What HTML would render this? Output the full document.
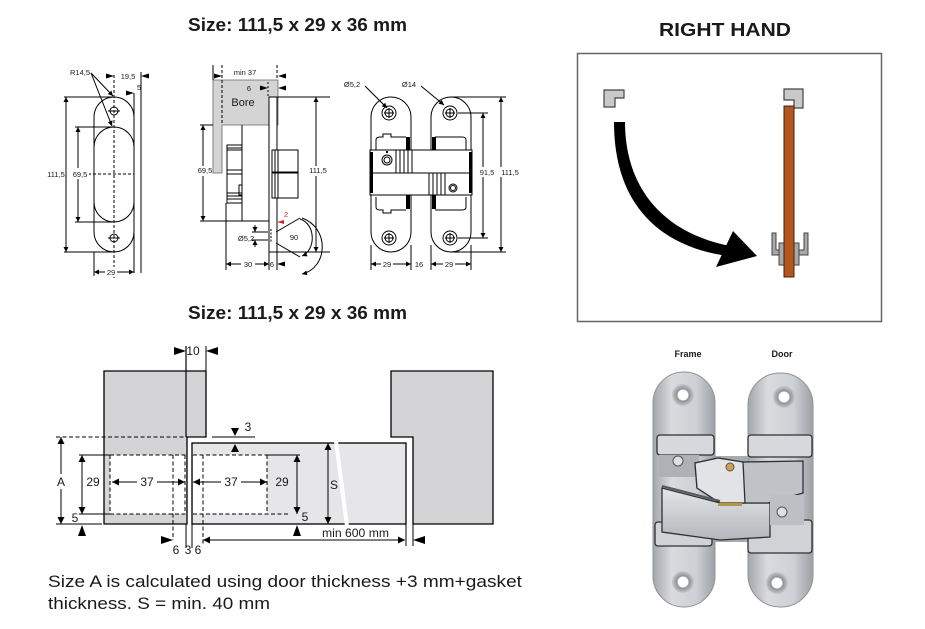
<!DOCTYPE html>
<html><head><meta charset="utf-8"><style>
html,body{margin:0;padding:0;background:#fff;}
svg{display:block;}
text{font-family:"Liberation Sans",Arial,sans-serif;fill:#1a1a1a;}
.d{font-size:7.5px;}
.b{font-size:12px;}
</style></head><body>
<svg width="925" height="629" viewBox="0 0 925 629" xmlns="http://www.w3.org/2000/svg">
<defs>
<marker id="ar" viewBox="0 0 10 10" refX="10" refY="5" markerWidth="7" markerHeight="5" markerUnits="userSpaceOnUse" orient="auto-start-reverse"><path d="M0,0L10,5L0,10z" fill="#000"/></marker>
<marker id="ab" viewBox="0 0 10 10" refX="10" refY="5" markerWidth="11" markerHeight="7" markerUnits="userSpaceOnUse" orient="auto-start-reverse"><path d="M0,0L10,5L0,10z" fill="#000"/></marker>
<linearGradient id="silv" x1="0" y1="0" x2="1" y2="0">
<stop offset="0" stop-color="#a3a6ab"/><stop offset="0.3" stop-color="#d9dbde"/><stop offset="0.7" stop-color="#cdd0d4"/><stop offset="1" stop-color="#9da0a5"/>
</linearGradient>
<linearGradient id="silv2" x1="0" y1="0" x2="0" y2="1">
<stop offset="0" stop-color="#e4e6e8"/><stop offset="1" stop-color="#b3b6ba"/>
</linearGradient>
<radialGradient id="hole" cx="0.5" cy="0.5" r="0.5">
<stop offset="0.45" stop-color="#ffffff"/><stop offset="0.55" stop-color="#8d9095"/><stop offset="1" stop-color="#c7c9cd"/>
</radialGradient>
</defs>
<rect width="925" height="629" fill="#fff"/>

<!-- Titles -->
<text x="188" y="31" font-size="18" font-weight="bold" textLength="219" lengthAdjust="spacingAndGlyphs">Size: 111,5 x 29 x 36 mm</text>
<text x="188" y="319" font-size="18" font-weight="bold" textLength="219" lengthAdjust="spacingAndGlyphs">Size: 111,5 x 29 x 36 mm</text>
<text x="659" y="36" font-size="18" font-weight="bold" textLength="132" lengthAdjust="spacingAndGlyphs">RIGHT HAND</text>

<!-- ============ VIEW 1 ============ -->
<g stroke="#000" stroke-width="1" fill="none">
<rect x="94" y="97" width="40" height="155" rx="20"/>
<rect x="94" y="127" width="40" height="95" rx="20"/>
<circle cx="114" cy="111" r="4"/><circle cx="114" cy="238" r="4"/>
<line x1="108" y1="111" x2="120" y2="111"/><line x1="108" y1="238" x2="120" y2="238"/>
<line x1="114" y1="75" x2="114" y2="278" stroke-dasharray="3 2"/>
<line x1="88" y1="174" x2="134" y2="174" stroke-dasharray="3 2"/>
<line x1="134" y1="93" x2="134" y2="273"/>
<line x1="141" y1="72" x2="141" y2="273"/>
<line x1="64" y1="97" x2="113" y2="97"/>
<line x1="64" y1="252" x2="113" y2="252"/>
<line x1="75" y1="127" x2="113" y2="127"/>
<line x1="75" y1="222" x2="113" y2="222"/>
<line x1="94" y1="252" x2="94" y2="276"/>
<line x1="66" y1="97" x2="66" y2="252" marker-start="url(#ar)" marker-end="url(#ar)"/>
<line x1="78" y1="127" x2="78" y2="222" marker-start="url(#ar)" marker-end="url(#ar)"/>
<line x1="94" y1="272" x2="134" y2="272" marker-start="url(#ar)" marker-end="url(#ar)"/>
<line x1="91" y1="73" x2="113" y2="96" marker-end="url(#ar)"/>
<line x1="91" y1="73" x2="112" y2="126" marker-end="url(#ar)"/>
</g>
<polygon points="106,73.5 114,76 106,78.5" fill="#000"/>
<polygon points="149,73.5 141,76 149,78.5" fill="#000"/>
<polygon points="126,90.5 134,93 126,95.5" fill="#000"/>
<rect x="71" y="168" width="18" height="11" fill="#fff"/>
<rect x="105" y="267" width="12" height="10" fill="#fff"/>
<text class="d" x="90" y="75" text-anchor="end">R14,5</text>
<text class="d" x="128" y="79" text-anchor="middle">19,5</text>
<text class="d" x="137" y="90">5</text>
<text class="d" x="56" y="177" text-anchor="middle">111,5</text>
<text class="d" x="80" y="177" text-anchor="middle">69,5</text>
<text class="d" x="111" y="275" text-anchor="middle">29</text>

<!-- ============ VIEW 2 ============ -->
<polygon points="213,80 278,80 278,125 222,125 222,173 213,173" fill="#d4d4d4" stroke="#666" stroke-width="0.8"/>
<g stroke="#000" stroke-width="1" fill="none">
<line x1="222" y1="65" x2="222" y2="125" stroke-dasharray="3 2"/>
<line x1="277" y1="65" x2="277" y2="80" stroke-dasharray="3 2"/>
<line x1="268" y1="82" x2="268" y2="97" stroke-dasharray="2 2"/>
<line x1="213" y1="65" x2="213" y2="80"/>
<rect x="269" y="97" width="8" height="155" fill="#fff"/>
<line x1="242" y1="125" x2="242" y2="221"/>
<line x1="200" y1="221" x2="269" y2="221"/>
<line x1="200" y1="125" x2="213" y2="125"/>
<rect x="227" y="145" width="15" height="58" fill="#fff"/>
<line x1="227" y1="148" x2="242" y2="148"/><line x1="227" y1="150" x2="242" y2="150"/>
<line x1="227" y1="170" x2="242" y2="170"/><line x1="227" y1="174" x2="242" y2="174"/>
<line x1="227" y1="193" x2="242" y2="193"/><line x1="227" y1="196" x2="242" y2="196"/><line x1="227" y1="199" x2="242" y2="199"/>
<rect x="239" y="185" width="3" height="10"/>
<rect x="272" y="150" width="26" height="22" fill="#fff"/>
<rect x="272" y="173" width="26" height="25" fill="#fff"/>
<line x1="275" y1="150" x2="275" y2="198"/><line x1="278" y1="150" x2="278" y2="198"/>
<line x1="226" y1="203" x2="226" y2="270"/>
<line x1="269" y1="252" x2="269" y2="270"/>
<line x1="277" y1="252" x2="277" y2="270"/>
<line x1="226" y1="264" x2="269" y2="264" marker-start="url(#ar)" marker-end="url(#ar)"/>
<line x1="277" y1="97" x2="330" y2="97"/>
<line x1="277" y1="252" x2="330" y2="252"/>
<line x1="316" y1="97" x2="316" y2="252" marker-start="url(#ar)" marker-end="url(#ar)"/>
<line x1="203" y1="125" x2="203" y2="221" marker-start="url(#ar)" marker-end="url(#ar)"/>
<line x1="252" y1="232" x2="268" y2="232"/>
<line x1="252" y1="240" x2="268" y2="240"/>
<line x1="255" y1="225" x2="255" y2="232" marker-end="url(#ar)"/>
<line x1="255" y1="247" x2="255" y2="240" marker-end="url(#ar)"/>
<line x1="271" y1="229" x2="271" y2="243" stroke-dasharray="2 1.5"/>
<line x1="276" y1="232" x2="300" y2="218"/>
<line x1="276" y1="243" x2="300" y2="257"/>
<path d="M300,219 C316,224 316,250 302,256" marker-end="url(#ar)"/>
<path d="M302,218 C330,228 328,268 302,274" marker-end="url(#ar)"/>
</g>
<polygon points="214,73.5 222,76 214,78.5" fill="#000"/>
<polygon points="286,73.5 278,76 286,78.5" fill="#000"/>
<polygon points="260,85.5 268,88 260,90.5" fill="#000"/>
<polygon points="286,85.5 278,88 286,90.5" fill="#000"/>
<polygon points="285,261.5 277,264 285,266.5" fill="#000"/>
<polygon points="284,220 277,222 284,224" fill="#d22"/>
<rect x="198" y="166" width="14" height="10" fill="#fff"/>
<rect x="309" y="166" width="18" height="10" fill="#fff"/>
<rect x="241" y="259" width="14" height="10" fill="#fff"/>
<text class="d" x="245" y="75" text-anchor="middle" font-size="8">min 37</text>
<text class="d" x="249" y="91" text-anchor="middle">6</text>
<text x="243" y="106" font-size="11" text-anchor="middle">Bore</text>
<text class="d" x="205" y="173" text-anchor="middle">69,5</text>
<text class="d" x="318" y="173" text-anchor="middle">111,5</text>
<text class="d" x="246" y="241" text-anchor="middle">Ø5,2</text>
<text class="d" x="284" y="217" style="fill:#d22">2</text>
<text class="d" x="294" y="240" text-anchor="middle">90</text>
<text class="d" x="248" y="267" text-anchor="middle">30</text>
<text class="d" x="272" y="267" text-anchor="middle">6</text>

<!-- ============ VIEW 3 ============ -->
<g stroke="#000" stroke-width="1" fill="#fff">
<rect x="371" y="97" width="40" height="155" rx="20"/>
<rect x="431" y="97" width="40" height="155" rx="20"/>
<path d="M376,150 V140 Q376,137 380,137 H383 V134 H391 V137 H406" fill="none"/>
<path d="M376,197 V207 Q376,210 380,210 H383 V213 H391 V210 H406" fill="none"/>
<path d="M466,150 V140 Q466,137 462,137 H435" fill="none"/>
<path d="M466,197 V207 Q466,210 462,210 H435" fill="none"/>
<rect x="370" y="150" width="102" height="23"/>
<rect x="370" y="173" width="102" height="22"/>
<line x1="396" y1="150" x2="396" y2="173"/><line x1="400" y1="150" x2="400" y2="173"/><line x1="404" y1="150" x2="404" y2="173"/><line x1="408" y1="150" x2="408" y2="173"/><line x1="412" y1="150" x2="412" y2="173"/>
<line x1="429" y1="173" x2="429" y2="195"/><line x1="433" y1="173" x2="433" y2="195"/><line x1="437" y1="173" x2="437" y2="195"/><line x1="441" y1="173" x2="441" y2="195"/><line x1="445" y1="173" x2="445" y2="195"/>
<circle cx="387" cy="160" r="5"/><circle cx="387" cy="160" r="3"/>
<circle cx="453" cy="188" r="4"/><circle cx="453" cy="188" r="2.5"/>
<circle cx="389" cy="113" r="7"/><circle cx="389" cy="113" r="4"/>
<circle cx="389" cy="238" r="7"/><circle cx="389" cy="238" r="4"/>
<circle cx="450" cy="113" r="7"/><circle cx="450" cy="113" r="4"/>
<circle cx="450" cy="238" r="7"/><circle cx="450" cy="238" r="4"/>
</g>
<g fill="#000">
<rect x="406" y="137" width="4" height="13"/><rect x="406" y="195" width="4" height="14"/>
<rect x="432" y="137" width="4" height="13"/><rect x="432" y="195" width="4" height="14"/>
<rect x="370" y="152" width="3" height="41"/><rect x="469" y="152" width="3" height="41"/>
<rect x="386" y="151" width="2" height="2"/>
</g>
<g stroke="#000" stroke-width="1" fill="none">
<line x1="384" y1="113" x2="394" y2="113"/><line x1="389" y1="108" x2="389" y2="118"/>
<line x1="384" y1="238" x2="394" y2="238"/><line x1="389" y1="233" x2="389" y2="243"/>
<line x1="445" y1="113" x2="455" y2="113"/><line x1="450" y1="108" x2="450" y2="118"/>
<line x1="445" y1="238" x2="455" y2="238"/><line x1="450" y1="233" x2="450" y2="243"/>
<line x1="365" y1="86" x2="387" y2="108" marker-end="url(#ar)"/>
<line x1="421" y1="86" x2="444" y2="105" marker-end="url(#ar)"/>
<line x1="450" y1="97" x2="506" y2="97"/>
<line x1="450" y1="252" x2="506" y2="252"/>
<line x1="458" y1="113" x2="488" y2="113"/>
<line x1="458" y1="238" x2="488" y2="238"/>
<line x1="483" y1="113" x2="483" y2="238" marker-start="url(#ar)" marker-end="url(#ar)"/>
<line x1="501" y1="97" x2="501" y2="252" marker-start="url(#ar)" marker-end="url(#ar)"/>
<line x1="371" y1="245" x2="371" y2="270"/>
<line x1="411" y1="245" x2="411" y2="270"/>
<line x1="431" y1="245" x2="431" y2="270"/>
<line x1="471" y1="245" x2="471" y2="270"/>
<line x1="371" y1="264" x2="411" y2="264" marker-start="url(#ar)" marker-end="url(#ar)"/>
<line x1="431" y1="264" x2="471" y2="264" marker-start="url(#ar)" marker-end="url(#ar)"/>
</g>
<rect x="477" y="167" width="18" height="10" fill="#fff"/>
<rect x="500" y="167" width="20" height="10" fill="#fff"/>
<rect x="381" y="259" width="12" height="10" fill="#fff"/>
<rect x="443" y="259" width="12" height="10" fill="#fff"/>
<text class="d" x="352" y="87" text-anchor="middle">Ø5,2</text>
<text class="d" x="409" y="87" text-anchor="middle">Ø14</text>
<text class="d" x="487" y="175" text-anchor="middle">91,5</text>
<text class="d" x="510" y="175" text-anchor="middle">111,5</text>
<text class="d" x="387" y="267" text-anchor="middle">29</text>
<text class="d" x="419" y="267" text-anchor="middle">16</text>
<text class="d" x="449" y="267" text-anchor="middle">29</text>

<!-- ============ RIGHT HAND BOX ============ -->
<rect x="577.5" y="53.5" width="304" height="268" fill="#fff" stroke="#666" stroke-width="1.5"/>
<polygon points="604,90 624,90 624,98 615,98 615,107 604,107" fill="#c9c9c9" stroke="#444" stroke-width="1.2"/>
<polygon points="784,89 803,89 803,108 794,108 794,100 784,100" fill="#c9c9c9" stroke="#444" stroke-width="1.2"/>
<path d="M614,122 L625,122 C625,185 660,232 730,246 L728,256 C655,246 614,200 614,122 Z" fill="#000"/>
<polygon points="757,256 733,231 716,267" fill="#000"/>
<path d="M772,233 h4 v17 h28 v-17 h4 v22 h-36 z" fill="#a9a9a9" stroke="#444" stroke-width="1"/>
<rect x="779" y="243" width="5" height="22" fill="#a9a9a9" stroke="#444" stroke-width="1"/>
<rect x="794" y="243" width="5" height="22" fill="#a9a9a9" stroke="#444" stroke-width="1"/>
<rect x="784" y="106" width="10" height="171" fill="#b5561e" stroke="#3b2414" stroke-width="1"/>

<!-- ============ BOTTOM DIAGRAM ============ -->
<polygon points="104,371 206,371 206,437 187,437 187,524 104,524" fill="#d4d4d6" stroke="#000" stroke-width="1.3"/>
<polygon points="391,371 493,371 493,524 413,524 413,437 391,437" fill="#d4d4d6" stroke="#000" stroke-width="1.3"/>
<rect x="192" y="443" width="214" height="81" fill="#e6e6e8" stroke="#000" stroke-width="1.3"/>
<rect x="110" y="455" width="76" height="59" fill="#fff"/>
<rect x="193" y="455" width="74" height="59" fill="#fff"/>
<line x1="336" y1="441" x2="347" y2="526" stroke="#fff" stroke-width="4"/>
<g stroke="#000" stroke-width="1" fill="none">
<g stroke-dasharray="4 2.5">
<line x1="56" y1="437" x2="187" y2="437"/>
<line x1="110" y1="455" x2="186" y2="455"/>
<line x1="110" y1="514" x2="186" y2="514"/>
<line x1="110" y1="455" x2="110" y2="514"/>
<line x1="173" y1="455" x2="173" y2="540"/>
<line x1="185" y1="455" x2="185" y2="514"/>
<line x1="193" y1="455" x2="267" y2="455"/>
<line x1="193" y1="514" x2="290" y2="514"/>
<line x1="267" y1="455" x2="267" y2="514"/>
<line x1="203" y1="455" x2="203" y2="545"/>
</g>
<line x1="186" y1="346" x2="186" y2="437" stroke-width="1.2"/>
<line x1="206" y1="346" x2="206" y2="371"/>
<line x1="212" y1="437" x2="255" y2="437"/>
<line x1="267" y1="455" x2="300" y2="455"/>
<line x1="79" y1="455" x2="110" y2="455"/>
<line x1="79" y1="514" x2="110" y2="514"/>
<line x1="56" y1="524" x2="102" y2="524"/>
<line x1="61" y1="437" x2="61" y2="524" marker-start="url(#ab)" marker-end="url(#ab)"/>
<line x1="82" y1="455" x2="82" y2="514" marker-start="url(#ab)" marker-end="url(#ab)"/>
<line x1="112" y1="482" x2="185" y2="482" marker-start="url(#ab)" marker-end="url(#ab)"/>
<line x1="193" y1="482" x2="267" y2="482" marker-start="url(#ab)" marker-end="url(#ab)"/>
<line x1="297" y1="455" x2="297" y2="514" marker-start="url(#ab)" marker-end="url(#ab)"/>
<line x1="328" y1="443" x2="328" y2="524" marker-start="url(#ab)" marker-end="url(#ab)"/>
<line x1="203" y1="540" x2="405" y2="540" marker-start="url(#ab)" marker-end="url(#ab)"/>
<line x1="406" y1="524" x2="406" y2="546"/>
<line x1="413" y1="524" x2="413" y2="546"/>
<line x1="186" y1="524" x2="186" y2="548"/>
<line x1="192" y1="524" x2="192" y2="548"/>
</g>
<g fill="#000">
<polygon points="174,347 186,351 174,355"/>
<polygon points="218,347 206,351 218,355"/>
<polygon points="231,428 239,428 235,436"/>
<polygon points="231,452 239,452 235,444"/>
<polygon points="78,536 86,536 82,525"/>
<polygon points="293,536 301,536 297,525"/>
<polygon points="161,536 173,540 161,544"/>
<polygon points="425,536 413,540 425,544"/>
</g>
<rect x="55" y="474" width="12" height="15" fill="#fff"/>
<rect x="137" y="475" width="20" height="14" fill="#fff"/>
<rect x="221" y="475" width="20" height="14" fill="#fff"/>
<text class="b" x="193" y="355" text-anchor="middle">10</text>
<text class="b" x="248" y="431" text-anchor="middle">3</text>
<text class="b" x="61" y="486" text-anchor="middle">A</text>
<text class="b" x="93" y="486" text-anchor="middle">29</text>
<text class="b" x="147" y="486" text-anchor="middle">37</text>
<text class="b" x="231" y="486" text-anchor="middle">37</text>
<text class="b" x="282" y="486" text-anchor="middle">29</text>
<text class="b" x="334" y="489" text-anchor="middle">S</text>
<text class="b" x="75" y="522" text-anchor="middle">5</text>
<text class="b" x="305" y="521" text-anchor="middle">5</text>
<text class="b" x="322" y="537" textLength="67" lengthAdjust="spacingAndGlyphs">min 600 mm</text>
<text class="b" x="176" y="554" text-anchor="middle">6</text>
<text class="b" x="188" y="554" text-anchor="middle">3</text>
<text class="b" x="198" y="554" text-anchor="middle">6</text>

<!-- Bottom note -->
<text x="48" y="587" font-size="17" textLength="474" lengthAdjust="spacingAndGlyphs">Size A is calculated using door thickness +3 mm+gasket</text>
<text x="48" y="609" font-size="17" textLength="222" lengthAdjust="spacingAndGlyphs">thickness. S = min. 40 mm</text>

<!-- ============ PHOTO HINGE ============ -->
<text x="688" y="357" font-size="9" font-weight="bold" text-anchor="middle">Frame</text>
<text x="782" y="357" font-size="9" font-weight="bold" text-anchor="middle">Door</text>
<rect x="653" y="372" width="62" height="235" rx="31" fill="url(#silv)" stroke="#8f9297" stroke-width="1"/>
<rect x="748" y="373" width="65" height="234" rx="32" fill="url(#silv)" stroke="#8f9297" stroke-width="1"/>
<circle cx="683" cy="395" r="11" fill="url(#hole)"/>
<circle cx="784" cy="397" r="11" fill="url(#hole)"/>
<circle cx="683" cy="582" r="11" fill="url(#hole)"/>
<circle cx="777" cy="583" r="11" fill="url(#hole)"/>
<rect x="715" y="456" width="33" height="86" fill="#a7aaae"/>
<g stroke="#2e3034" stroke-width="1.3">
<rect x="657" y="435" width="57" height="20" rx="3" fill="#d6d8db"/>
<rect x="748" y="435" width="64" height="22" rx="3" fill="#d6d8db"/>
<rect x="655" y="522" width="57" height="24" rx="3" fill="#d0d2d5"/>
<rect x="748" y="520" width="64" height="33" rx="3" fill="#d0d2d5"/>
<rect x="659" y="455" width="40" height="22" fill="#aeb1b5" stroke="none"/>
<polygon points="662,488 720,503 770,503 770,537 720,540 662,532" fill="url(#silv2)"/>
<polygon points="695,463 718,458 743,462 803,461 803,493 768,503 745,503 720,503 697,488" fill="#bfc2c6"/>
<polygon points="695,463 718,458 743,462 745,503 720,503 697,488" fill="#e1e3e6"/>
</g>
<line x1="662" y1="486" x2="720" y2="501" stroke="#55585c" stroke-width="2"/>
<rect x="770" y="495" width="34" height="30" fill="#bcbfc3"/>
<circle cx="678" cy="461" r="5" fill="#e0e0e0" stroke="#555"/>
<circle cx="782" cy="512" r="5" fill="#e0e0e0" stroke="#555"/>
<circle cx="730" cy="467" r="4" fill="#c9a25a" stroke="#6b5530"/>
<rect x="718" y="503" width="24" height="3" fill="#b8963f"/>
</svg>
</body></html>
